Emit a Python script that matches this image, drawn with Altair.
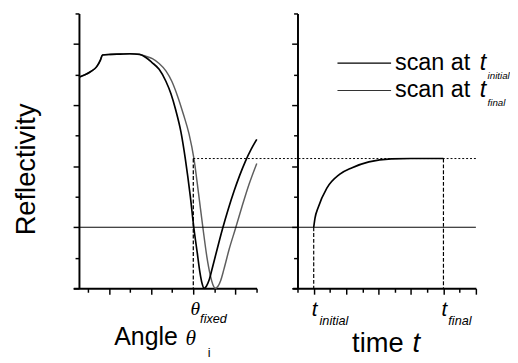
import altair as alt
import pandas as pd

# ---------------- data ----------------
# left panel: angular scans (angle units, reflectivity units)
scan_init_angle = [-0.42, -0.14, 0.14, 0.42, 0.60, 0.69, 1.07, 1.53, 1.99, 2.45,
                   2.75, 3.03, 3.38, 3.70, 3.94, 4.17, 4.42, 4.62, 4.86, 5.03,
                   5.19, 5.31, 5.42, 5.51, 5.62, 5.75, 5.90, 6.10, 6.39, 6.66,
                   6.93, 7.20, 7.47, 7.74, 8.01]
scan_init_refl = [6.91, 6.99, 7.10, 7.26, 7.48, 7.64, 7.66, 7.67, 7.68, 7.66,
                  7.56, 7.40, 7.17, 6.78, 6.37, 5.83, 5.10, 4.25, 3.00, 1.96,
                  1.15, 0.54, 0.15, 0.00, 0.07, 0.27, 0.66, 1.20, 1.96, 2.60,
                  3.18, 3.70, 4.16, 4.55, 4.88]
scan_final_angle = [-0.42, -0.14, 0.14, 0.42, 0.60, 0.69, 1.07, 1.53, 1.99, 2.45,
                    2.75, 3.06, 3.38, 3.70, 3.98, 4.25, 4.53, 4.80, 5.03, 5.25,
                    5.46, 5.64, 5.80, 5.93, 6.05, 6.17, 6.30, 6.45, 6.70, 7.00,
                    7.31, 7.64, 8.01]
scan_final_refl = [6.91, 6.99, 7.10, 7.26, 7.48, 7.64, 7.66, 7.67, 7.68, 7.66,
                   7.60, 7.52, 7.36, 7.12, 6.78, 6.30, 5.70, 5.05, 4.25, 3.10,
                   1.96, 1.05, 0.45, 0.12, 0.00, 0.07, 0.26, 0.62, 1.28, 1.96,
                   2.68, 3.40, 4.09]
# right panel: reflectivity at fixed angle versus time
time_vals = [1.00, 1.08, 1.27, 1.81, 2.59, 3.37, 4.40, 5.78, 7.00, 9.00]
time_refl = [2.00, 2.30, 2.64, 3.28, 3.73, 3.95, 4.14, 4.24, 4.25, 4.25]

theta_fixed = 5.0
t_initial = 1.0
t_final = 9.0
refl_initial = 2.0
refl_final = 4.25
angle_axis_start = -0.42
time_axis_end = 11.0

left_x_ticks = [0, 1, 2, 3, 4, 5, 6, 7, 8]
right_x_ticks = [0, 1, 2, 3, 4, 5, 6, 7, 8, 9, 10, 11]
y_ticks = [0, 1, 2, 3, 4, 5, 6, 7, 8, 9]

legend_labels = ["scan at", "scan at"]
legend_subs = ["initial", "final"]

# ---------------- scales & axes ----------------
W, H = 188, 282
GAP = 37
FONT = "Liberation Sans"

scL = alt.Scale(domain=[-0.69, 8.0], nice=False, zero=False)
scR = alt.Scale(domain=[-0.3, 11.0], nice=False, zero=False)
scY = alt.Scale(domain=[0, 9], nice=False, zero=False)

def xaxis(values):
    return alt.Axis(labels=False, title=None, grid=False, values=values,
                    domainColor="black", domainWidth=2, tickColor="black", tickWidth=1.5,
                    tickSize={"condition": {"test": "datum.value % 2 === 1", "value": 6}, "value": 4})

def yaxis(off):
    return alt.Axis(labels=False, title=None, grid=False, values=y_ticks, offset=off,
                    domainColor="black", domainWidth=2, tickColor="black", tickWidth=1.5,
                    tickSize={"condition": {"test": "datum.value % 2 === 0", "value": 6}, "value": 4})

axL, axR = xaxis(left_x_ticks), xaxis(right_x_ticks)
ayL, ayR = yaxis(-5.8), yaxis(-5)

def XL(**kw):
    return alt.X(scale=scL, axis=axL, type="quantitative", **kw)

def XR(**kw):
    return alt.X(scale=scR, axis=axR, type="quantitative", **kw)

def YL(**kw):
    return alt.Y(scale=scY, axis=ayL, type="quantitative", **kw)

def YR(**kw):
    return alt.Y(scale=scY, axis=ayR, type="quantitative", **kw)

one = pd.DataFrame({"k": [0]})
df_init = pd.DataFrame({"a": scan_init_angle, "r": scan_init_refl})
df_final = pd.DataFrame({"a": scan_final_angle, "r": scan_final_refl})
df_time = pd.DataFrame({"t": time_vals, "r": time_refl})

def txt(text, size, style="normal", font=FONT, align="left"):
    return alt.Chart(one).mark_text(text=text, fontSize=size, fontStyle=style, font=font,
                                    align=align, baseline="alphabetic", color="black")

# ---------------- left panel ----------------
final_line = alt.Chart(df_final).mark_line(color="#5e5e5e", strokeWidth=1.5, interpolate="monotone").encode(
    x=XL(field="a"), y=YL(field="r"))
init_line = alt.Chart(df_init).mark_line(color="black", strokeWidth=1.7, interpolate="monotone").encode(
    x=XL(field="a"), y=YL(field="r"))
solid_L = alt.Chart(one).mark_rule(color="black", strokeWidth=1).encode(
    x=XL(datum=angle_axis_start), x2=alt.value(W + GAP), y=YL(datum=refl_initial))
dotted_L = alt.Chart(one).mark_rule(color="black", strokeWidth=1, strokeDash=[2, 2]).encode(
    x=XL(datum=theta_fixed), x2=alt.value(W + GAP), y=YL(datum=refl_final))
vfix = alt.Chart(one).mark_rule(color="black", strokeWidth=1.3, strokeDash=[4, 2]).encode(
    x=XL(datum=theta_fixed), y=YL(datum=refl_final), y2=alt.Y2(datum=0))

th_fix = alt.Chart(one).mark_text(text="θ", font="Liberation Serif", fontStyle="italic", fontSize=20,
                                  align="center", baseline="alphabetic", dx=2).encode(
    x=XL(datum=theta_fixed), y=alt.value(309))
th_fix_sub = alt.Chart(one).mark_text(text="fixed", font=FONT, fontStyle="italic", fontSize=13,
                                      align="left", baseline="alphabetic", dx=7).encode(
    x=XL(datum=theta_fixed), y=alt.value(318))

refl_title = alt.Chart(one).mark_text(text="Reflectivity", font=FONT, fontSize=28, angle=270,
                                      align="center", baseline="middle").encode(
    x=alt.value(-47), y=alt.value(160))
angle_title = txt("Angle", 25.5).encode(x=alt.value(42), y=alt.value(340))
angle_theta = txt("θ", 22, style="italic", font="Liberation Serif").encode(
    x=alt.value(115), y=alt.value(340))
angle_sub = txt("i", 13).encode(x=alt.value(138), y=alt.value(352))

left = alt.layer(final_line, init_line, solid_L, dotted_L, vfix, th_fix, th_fix_sub,
                 refl_title, angle_title, angle_theta, angle_sub).properties(width=W, height=H)

# ---------------- right panel ----------------
time_line = alt.Chart(df_time).mark_line(color="black", strokeWidth=1.7, interpolate="monotone").encode(
    x=XR(field="t"), y=YR(field="r"))
solid_R = alt.Chart(one).mark_rule(color="black", strokeWidth=1).encode(
    x=XR(datum=time_axis_end), x2=alt.value(0), y=YR(datum=refl_initial))
dotted_R = alt.Chart(one).mark_rule(color="black", strokeWidth=1, strokeDash=[2, 2]).encode(
    x=XR(datum=time_axis_end), x2=alt.value(0), y=YR(datum=refl_final))
v_init = alt.Chart(one).mark_rule(color="black", strokeWidth=1.2, strokeDash=[4, 2]).encode(
    x=XR(datum=t_initial), y=YR(datum=refl_initial), y2=alt.Y2(datum=0))
v_final = alt.Chart(one).mark_rule(color="black", strokeWidth=1.2, strokeDash=[4, 2]).encode(
    x=XR(datum=t_final), y=YR(datum=refl_final), y2=alt.Y2(datum=0))

t_i = alt.Chart(one).mark_text(text="t", font=FONT, fontStyle="italic", fontSize=21,
                               align="center", baseline="alphabetic", dx=1).encode(
    x=XR(datum=t_initial), y=alt.value(310))
t_i_sub = alt.Chart(one).mark_text(text="initial", font=FONT, fontStyle="italic", fontSize=13,
                                   align="left", baseline="alphabetic", dx=6).encode(
    x=XR(datum=t_initial), y=alt.value(320))
t_f = alt.Chart(one).mark_text(text="t", font=FONT, fontStyle="italic", fontSize=21,
                               align="center", baseline="alphabetic", dx=1).encode(
    x=XR(datum=t_final), y=alt.value(310))
t_f_sub = alt.Chart(one).mark_text(text="final", font=FONT, fontStyle="italic", fontSize=13,
                                   align="left", baseline="alphabetic", dx=5).encode(
    x=XR(datum=t_final), y=alt.value(320))

time_title = txt("time", 28).encode(x=alt.value(61), y=alt.value(347))
time_t = txt("t", 28, style="italic").encode(x=alt.value(123), y=alt.value(347))

leg_line1 = alt.Chart(one).mark_rule(color="black", strokeWidth=1.4).encode(
    x=alt.value(46), x2=alt.value(101), y=alt.value(51))
leg_line2 = alt.Chart(one).mark_rule(color="#333333", strokeWidth=1.1).encode(
    x=alt.value(46), x2=alt.value(101), y=alt.value(79))
leg_t1 = txt(legend_labels[0], 24).encode(x=alt.value(105), y=alt.value(58))
leg_t2 = txt(legend_labels[1], 24).encode(x=alt.value(105), y=alt.value(86))
leg_it1 = txt("t", 24, style="italic").encode(x=alt.value(192), y=alt.value(58))
leg_it2 = txt("t", 24, style="italic").encode(x=alt.value(192), y=alt.value(86))
leg_s1 = txt(legend_subs[0], 10, style="italic").encode(x=alt.value(200), y=alt.value(67))
leg_s2 = txt(legend_subs[1], 10, style="italic").encode(x=alt.value(200), y=alt.value(95))

right = alt.layer(time_line, solid_R, dotted_R, v_init, v_final, t_i, t_i_sub, t_f, t_f_sub,
                  time_title, time_t, leg_line1, leg_line2, leg_t1, leg_t2, leg_it1, leg_it2,
                  leg_s1, leg_s2).properties(width=W, height=H)

chart = alt.hconcat(left, right, spacing=GAP, bounds="flush").properties(
    padding={"left": 6, "top": 0, "right": 0, "bottom": 0},
    background="white"
).configure_view(stroke=None)

chart.save("out.html", embed_options={"renderer": "svg", "actions": False})
